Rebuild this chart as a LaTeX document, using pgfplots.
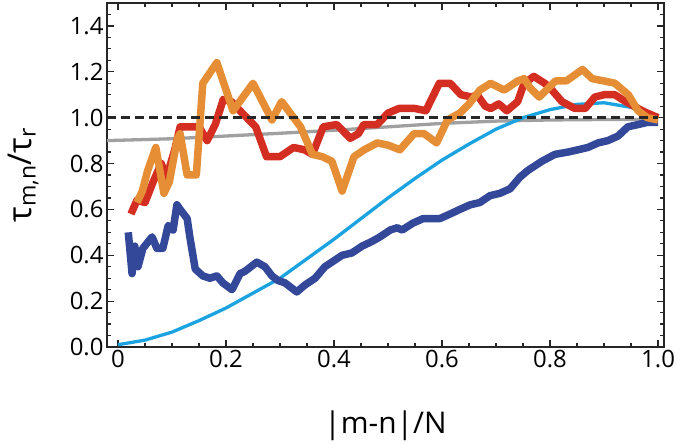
\documentclass[border=0pt]{standalone}
\usepackage{fontspec}
\setmainfont{Open Sans}
\usepackage{pgfplots}
\pgfplotsset{compat=1.18}
\definecolor{cred}{HTML}{D42E23}
\definecolor{corange}{HTML}{E58E35}
\definecolor{cblue}{HTML}{34489A}
\definecolor{ccyan}{HTML}{1AA3E0}
\definecolor{cgray}{HTML}{A0A0A0}
\begin{document}
\begin{tikzpicture}
\path[use as bounding box] (0,0) rectangle (677bp,445bp);
\begin{axis}[
  at={(107bp,98bp)}, anchor=south west,
  scale only axis, width=557bp, height=344bp,
  xmin=-0.0204, xmax=1.011, ymin=0, ymax=1.5,
  xtick={0,0.2,0.4,0.6,0.8,1.0},
  xticklabels={0,0.2,0.4,0.6,0.8,1.0},
  ytick={0,0.2,0.4,0.6,0.8,1.0,1.2,1.4},
  yticklabels={0.0,0.2,0.4,0.6,0.8,1.0,1.2,1.4},
  minor xtick={0.05,0.1,0.15,0.25,0.3,0.35,0.45,0.5,0.55,0.65,0.7,0.75,0.85,0.9,0.95},
  minor ytick={0.05,0.1,0.15,0.25,0.3,0.35,0.45,0.5,0.55,0.65,0.7,0.75,0.85,0.9,0.95,1.05,1.1,1.15,1.25,1.3,1.35,1.45},
  tick align=inside,
  major tick length=7bp, minor tick length=4bp,
  tick style={line width=1.2bp, color=black!85},
  axis line style={line width=1.5bp, black!85},
  ticklabel style={font=\fontsize{24}{28}\selectfont},
  xlabel={|m-n|/N},
  xlabel style={font=\fontsize{30}{34}\selectfont, at={(axis description cs:0.5,-0.25)}, anchor=base},
  ylabel={τ\textsubscript{m,n}/τ\textsubscript{r}},
  ylabel style={font=\fontsize{33}{36}\selectfont, at={(axis description cs:-0.150,0.5)}, anchor=center},
  clip=false,
]
% gray reference
\addplot[cgray, line width=3.3bp] coordinates {
(-0.0204,0.900) (0.1,0.908) (0.2,0.920) (0.3,0.932) (0.4,0.945) (0.5,0.960) (0.6,0.975) (0.7,0.985) (0.8,0.990) (0.9,0.992) (1.0,0.992)};
% cyan model
\addplot[ccyan, line width=3.3bp] coordinates {
(0.0,0.01) (0.05,0.03) (0.1,0.065) (0.15,0.115) (0.2,0.17) (0.25,0.235) (0.3,0.30) (0.35,0.385) (0.4,0.47) (0.45,0.56) (0.5,0.65) (0.55,0.735) (0.6,0.815) (0.65,0.885) (0.7,0.95) (0.75,1.0) (0.8,1.035) (0.85,1.058) (0.9,1.065) (0.95,1.045) (1.0,1.0)};
% dark blue
\addplot[cblue, line width=7.5bp, line join=round] coordinates {
(0.019,0.50) (0.026,0.32) (0.031,0.44) (0.037,0.35) (0.046,0.43) (0.063,0.48) (0.072,0.43) (0.083,0.43) (0.093,0.53) (0.102,0.51) (0.109,0.62) (0.115,0.60) (0.128,0.56) (0.133,0.48) (0.143,0.34) (0.157,0.31) (0.17,0.30) (0.183,0.31) (0.194,0.28) (0.211,0.25) (0.226,0.32) (0.235,0.33) (0.257,0.37) (0.272,0.35) (0.285,0.31) (0.296,0.29) (0.309,0.28) (0.331,0.24) (0.346,0.27) (0.365,0.30) (0.383,0.35) (0.396,0.37) (0.415,0.40) (0.433,0.41) (0.452,0.44) (0.470,0.46) (0.485,0.48) (0.504,0.51) (0.517,0.52) (0.526,0.51) (0.546,0.54) (0.565,0.56) (0.583,0.56) (0.596,0.56) (0.615,0.58) (0.633,0.60) (0.652,0.62) (0.670,0.63) (0.689,0.66) (0.707,0.67) (0.726,0.69) (0.744,0.74) (0.759,0.77) (0.785,0.81) (0.809,0.84) (0.833,0.85) (0.852,0.86) (0.870,0.87) (0.889,0.89) (0.907,0.90) (0.926,0.92) (0.944,0.96) (0.963,0.97) (0.981,0.98) (1.0,0.98)};
% red
\addplot[cred, line width=7.5bp, line join=round] coordinates {
(0.024,0.58) (0.035,0.64) (0.05,0.63) (0.065,0.72) (0.08,0.80) (0.09,0.74) (0.105,0.86) (0.115,0.96) (0.15,0.96) (0.165,0.90) (0.18,0.97) (0.195,1.08) (0.21,1.07) (0.23,1.02) (0.255,0.96) (0.275,0.83) (0.3,0.83) (0.325,0.87) (0.345,0.86) (0.36,0.84) (0.38,0.96) (0.405,0.97) (0.43,0.91) (0.445,0.93) (0.455,0.97) (0.48,0.97) (0.5,1.02) (0.52,1.04) (0.55,1.04) (0.57,1.03) (0.595,1.15) (0.615,1.15) (0.635,1.10) (0.655,1.09) (0.665,1.10) (0.68,1.05) (0.69,1.04) (0.705,1.06) (0.72,1.03) (0.74,1.07) (0.752,1.15) (0.77,1.18) (0.79,1.15) (0.8,1.13) (0.822,1.07) (0.846,1.04) (0.865,1.04) (0.883,1.09) (0.9,1.10) (0.92,1.10) (0.94,1.07) (0.963,1.04) (0.98,1.02) (1.0,1.00)};
% orange
\addplot[corange, line width=7.5bp, line join=round] coordinates {
(0.035,0.63) (0.045,0.68) (0.055,0.77) (0.07,0.87) (0.085,0.67) (0.095,0.72) (0.11,0.91) (0.115,0.93) (0.128,0.75) (0.145,0.75) (0.157,1.15) (0.183,1.24) (0.213,1.03) (0.25,1.15) (0.285,0.99) (0.303,1.07) (0.338,0.96) (0.36,0.84) (0.378,0.83) (0.396,0.81) (0.415,0.68) (0.437,0.83) (0.456,0.86) (0.48,0.89) (0.5,0.88) (0.522,0.86) (0.548,0.93) (0.567,0.93) (0.59,0.89) (0.61,0.99) (0.633,1.02) (0.65,1.06) (0.67,1.12) (0.69,1.15) (0.715,1.12) (0.74,1.16) (0.752,1.17) (0.763,1.13) (0.78,1.09) (0.81,1.16) (0.83,1.16) (0.86,1.21) (0.878,1.17) (0.9,1.16) (0.92,1.15) (0.945,1.10) (0.963,1.03) (0.98,1.00) (1.0,0.99)};
% dashed unity line
\addplot[black!85, line width=3bp, dash pattern=on 9bp off 5bp] coordinates {(-0.0204,1.0) (1.0,1.0)};
\end{axis}
\end{tikzpicture}
\end{document}
